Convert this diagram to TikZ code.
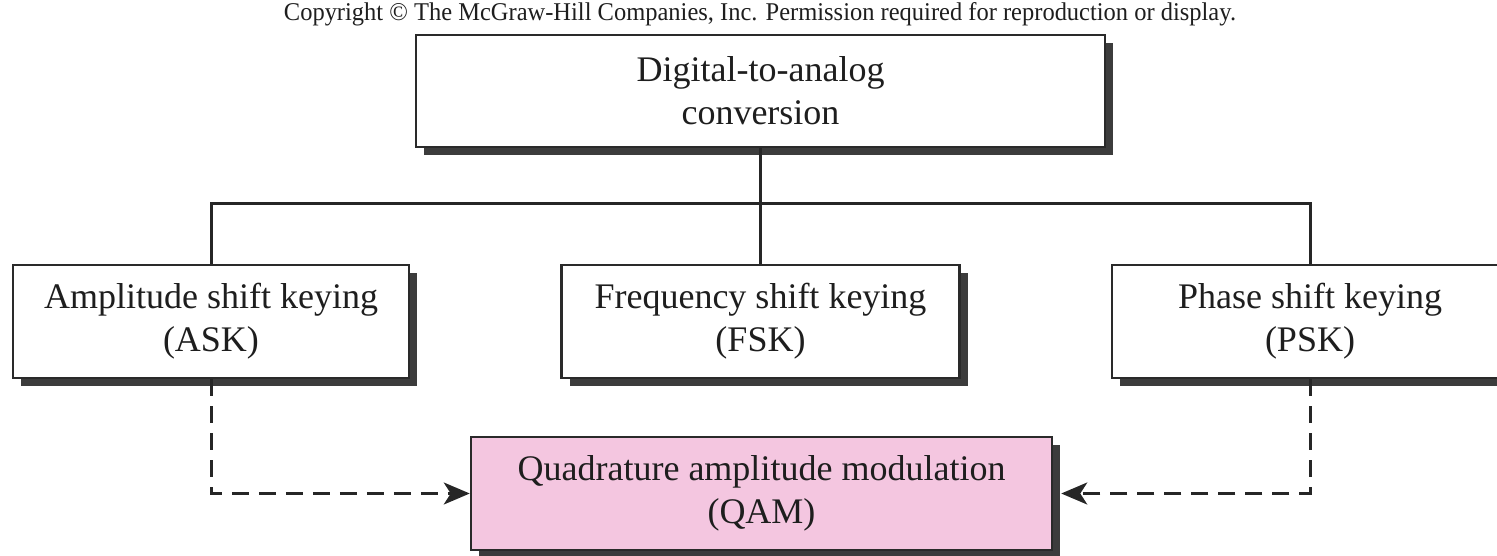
\documentclass[tikz,border=0pt]{standalone}
\usepackage{fontspec}
\setmainfont{Liberation Serif}
\usetikzlibrary{arrows.meta,shadows}
\definecolor{qampink}{HTML}{F4C6E0}
\definecolor{shadowgray}{HTML}{3C3C3C}
\definecolor{edgegray}{HTML}{2A2A2A}
\definecolor{textgray}{HTML}{1E1E1E}
\begin{document}
\begin{tikzpicture}[x=1pt,y=-1pt,
  boxstyle/.style={draw=edgegray, line width=2.5pt, fill=white, rectangle, inner sep=0pt,
    align=center, text=textgray, font=\fontsize{36}{43}\selectfont,
    drop shadow={shadow xshift=8pt, shadow yshift=-8pt, fill=shadowgray, opacity=1}},
  conn/.style={draw=black!85, line width=3pt},
  dconn/.style={draw=black!85, line width=3pt, dash pattern=on 17pt off 10pt,
    -{Stealth[length=26pt,width=22pt,inset=7pt]}}
]
\useasboundingbox (0,0) rectangle (1497,556);
\node[text=textgray] (copy) at (760,14.5) {\resizebox{952pt}{18pt}{Copyright \textcopyright{} The McGraw-Hill Companies, Inc. Permission required for reproduction or display.}};
\node[boxstyle, minimum width=689pt, minimum height=112pt] (top) at (760.5,91) {Digital-to-analog\\conversion};
\node[boxstyle, minimum width=396pt, minimum height=113pt] (ask) at (211,321.5) {Amplitude shift keying\\(ASK)};
\node[boxstyle, minimum width=398pt, minimum height=113pt] (fsk) at (760.5,321.5) {Frequency shift keying\\(FSK)};
\node[boxstyle, minimum width=396pt, minimum height=113pt] (psk) at (1310,321.5) {Phase shift keying\\(PSK)};
\node[boxstyle, fill=qampink, minimum width=581pt, minimum height=113pt] (qam) at (761.5,493.5) {Quadrature amplitude modulation\\(QAM)};
\coordinate (bus) at (0,204);
\draw[conn] (top.south) -- (fsk.north);
\draw[conn] (ask.north) -- (ask.north |- bus) -- (psk.north |- bus) -- (psk.north);
\draw[dconn] (ask.south) |- (qam.west);
\draw[dconn, shorten >=8pt] (psk.south) |- (qam.east);
\end{tikzpicture}
\end{document}
